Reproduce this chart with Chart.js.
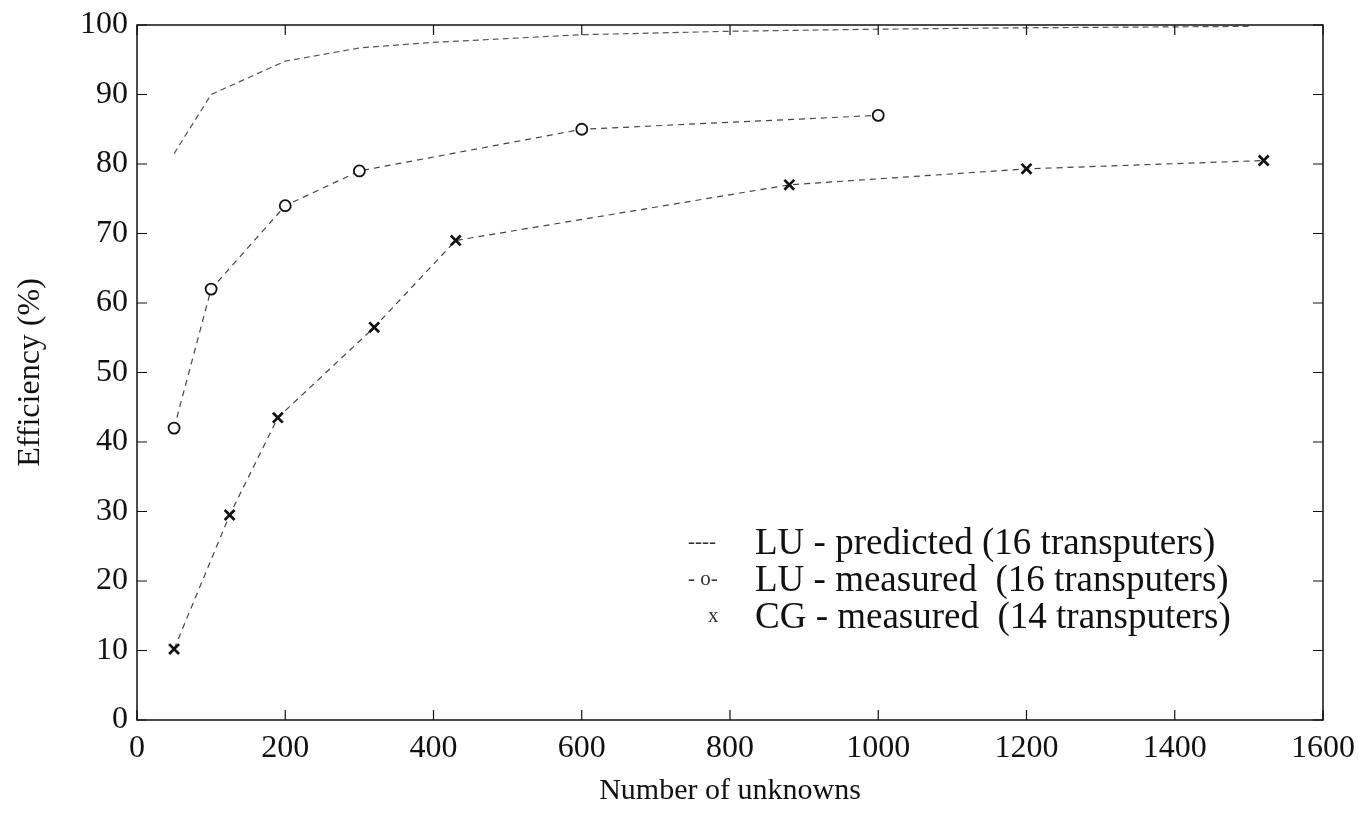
<!DOCTYPE html>
<html>
<head>
<meta charset="utf-8">
<script src="https://cdn.jsdelivr.net/npm/chart.js@4.4.3/dist/chart.umd.min.js"></script>
<style>
  html, body { margin: 0; padding: 0; background: #fff; }
  #wrap { position: relative; width: 1358px; height: 829px; }
  #legend {
    position: absolute; left: 680px; top: 523px;
    font-family: "Liberation Serif", "Times New Roman", serif;
    font-size: 37px; color: #111; line-height: 37px; white-space: pre;
  }
  #legend .row { display: flex; align-items: center; }
  #legend .sym { width: 75px; font-size: 21px; color: #333; text-align: left; padding-left: 8px; box-sizing: border-box; }
</style>
</head>
<body>
<div id="wrap">
  <canvas id="c" width="1358" height="829"></canvas>
  <div id="legend"></div>
</div>
<script>
// ---------- data ----------
const predX = [50, 100, 200, 300, 400, 600, 800, 1000, 1200, 1500];
const predY = [81.5, 90, 94.8, 96.7, 97.5, 98.6, 99.1, 99.4, 99.6, 99.8];

const luX = [50, 100, 200, 300, 600, 1000];
const luY = [42, 62, 74, 79, 85, 87];

const cgX = [50, 125, 190, 320, 430, 880, 1200, 1520];
const cgY = [10.2, 29.5, 43.5, 56.5, 69, 77, 79.3, 80.5];

const legendLabels = [
  "LU - predicted (16 transputers)",
  "LU - measured  (16 transputers)",
  "CG - measured  (14 transputers)",
];
const legendSymbols = ["----", "- o-", "x"];

const xTicks = [0, 200, 400, 600, 800, 1000, 1200, 1400, 1600];
const yTicks = [0, 10, 20, 30, 40, 50, 60, 70, 80, 90, 100];

const FONT = "'Liberation Serif', 'Times New Roman', serif";

function pts(xs, ys) {
  return xs.map((x, i) => ({ x, y: ys[i] }));
}

// frame + inward tick marks on all four sides
const framePlugin = {
  id: "frame",
  afterDraw(chart) {
    const { ctx, chartArea: a, scales } = chart;
    ctx.save();
    ctx.strokeStyle = "#111";
    ctx.lineWidth = 1.5;
    ctx.strokeRect(a.left, a.top, a.right - a.left, a.bottom - a.top);
    ctx.lineWidth = 1.2;
    const len = 10;
    ctx.beginPath();
    scales.x.ticks.forEach((t) => {
      const px = scales.x.getPixelForValue(t.value);
      ctx.moveTo(px, a.bottom); ctx.lineTo(px, a.bottom - len);
      ctx.moveTo(px, a.top); ctx.lineTo(px, a.top + len);
    });
    scales.y.ticks.forEach((t) => {
      const py = scales.y.getPixelForValue(t.value);
      ctx.moveTo(a.left, py); ctx.lineTo(a.left + len, py);
      ctx.moveTo(a.right, py); ctx.lineTo(a.right - len, py);
    });
    ctx.stroke();
    ctx.restore();
  },
};

new Chart(document.getElementById("c"), {
  type: "scatter",
  data: {
    datasets: [
      {
        label: legendLabels[0],
        data: pts(predX, predY),
        showLine: true,
        borderColor: "#555",
        borderWidth: 1.2,
        borderDash: [6, 4],
        pointRadius: 0,
        tension: 0,
      },
      {
        label: legendLabels[1],
        data: pts(luX, luY),
        showLine: true,
        borderColor: "#444",
        borderWidth: 1.2,
        borderDash: [6, 5],
        pointStyle: "circle",
        pointRadius: 5.5,
        pointBorderWidth: 1.8,
        pointBorderColor: "#111",
        pointBackgroundColor: "#fff",
        tension: 0,
      },
      {
        label: legendLabels[2],
        data: pts(cgX, cgY),
        showLine: true,
        borderColor: "#444",
        borderWidth: 1.2,
        borderDash: [6, 5],
        pointStyle: "crossRot",
        pointRadius: 7,
        pointBorderWidth: 2.7,
        pointBorderColor: "#111",
        tension: 0,
      },
    ],
  },
  options: {
    responsive: false,
    animation: false,
    layout: { padding: { top: 24, right: 35, left: 0, bottom: 0 } },
    plugins: { legend: { display: false }, tooltip: { enabled: false } },
    scales: {
      x: {
        type: "linear",
        min: 0,
        max: 1600,
        afterBuildTicks: (s) => { s.ticks = xTicks.map((v) => ({ value: v })); },
        afterFit: (s) => { s.height = 109; s.paddingRight = 0; s.paddingLeft = 0; },
        grid: { display: false, drawTicks: false },
        border: { display: false },
        ticks: {
          color: "#111", font: { family: FONT, size: 32 }, padding: 9, maxRotation: 0, autoSkip: false,
          callback: (v) => String(v),
        },
        title: {
          display: true,
          text: "Number of unknowns",
          color: "#111",
          font: { family: FONT, size: 30 },
          padding: { top: 0, bottom: 20 },
        },
      },
      y: {
        min: 0,
        max: 100,
        afterBuildTicks: (s) => { s.ticks = yTicks.map((v) => ({ value: v })); },
        afterFit: (s) => { s.width = 137; },
        grid: { display: false, drawTicks: false },
        border: { display: false },
        ticks: {
          color: "#111", font: { family: FONT, size: 32, lineHeight: 1 }, padding: 9, autoSkip: false,
          callback: (v) => String(v),
        },
        title: {
          display: true,
          text: "Efficiency (%)",
          color: "#111",
          font: { family: FONT, size: 32 },
          padding: { top: 11, bottom: 0 },
        },
      },
    },
  },
  plugins: [framePlugin],
});

// legend as real text
const lg = document.getElementById("legend");
legendLabels.forEach((txt, i) => {
  const row = document.createElement("div");
  row.className = "row";
  const sym = document.createElement("span");
  sym.className = "sym";
  sym.textContent = legendSymbols[i];
  if (i === 2) sym.style.paddingLeft = "28px";
  const lab = document.createElement("span");
  lab.textContent = txt;
  row.appendChild(sym);
  row.appendChild(lab);
  lg.appendChild(row);
});
</script>
</body>
</html>
